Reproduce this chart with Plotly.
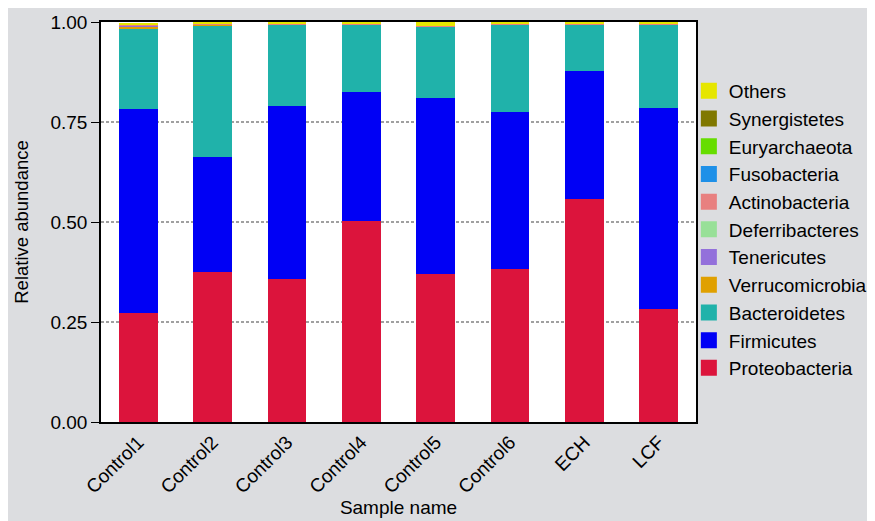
import plotly.graph_objects as go

samples = ["Control1", "Control2", "Control3", "Control4", "Control5", "Control6", "ECH", "LCF"]

proteobacteria = [0.272, 0.374, 0.357, 0.503, 0.369, 0.382, 0.557, 0.283]
firmicutes = [0.511, 0.288, 0.433, 0.321, 0.442, 0.393, 0.321, 0.503]
bacteroidetes = [0.199, 0.330, 0.2025, 0.169, 0.1765, 0.2175, 0.1145, 0.2065]
verrucomicrobia = [0.0055, 0.0010, 0.0005, 0.0005, 0.0005, 0.0005, 0.0010, 0.0005]
tenericutes = [0.0035, 0.0005, 0.0005, 0.0005, 0.0005, 0.0005, 0.0005, 0.0005]
deferribacteres = [0.0005, 0.0005, 0.0005, 0.0005, 0.0005, 0.0005, 0.0005, 0.0005]
actinobacteria = [0.0010, 0.0015, 0.0020, 0.0010, 0.0010, 0.0015, 0.0015, 0.0015]
fusobacteria = [0.0002, 0.0002, 0.0002, 0.0002, 0.0002, 0.0002, 0.0002, 0.0002]
euryarchaeota = [0.0002, 0.0002, 0.0002, 0.0002, 0.0002, 0.0002, 0.0002, 0.0002]
synergistetes = [0.0002, 0.0002, 0.0002, 0.0002, 0.0002, 0.0002, 0.0002, 0.0002]
others = [0.0044, 0.0044, 0.0034, 0.0044, 0.0094, 0.0034, 0.0034, 0.0044]

series = [
    ("Proteobacteria", proteobacteria, "#dc143c"),
    ("Firmicutes", firmicutes, "#0000f5"),
    ("Bacteroidetes", bacteroidetes, "#20b2aa"),
    ("Verrucomicrobia", verrucomicrobia, "#e0a000"),
    ("Tenericutes", tenericutes, "#9370db"),
    ("Deferribacteres", deferribacteres, "#98e098"),
    ("Actinobacteria", actinobacteria, "#e88080"),
    ("Fusobacteria", fusobacteria, "#1e90e8"),
    ("Euryarchaeota", euryarchaeota, "#66dd00"),
    ("Synergistetes", synergistetes, "#807800"),
    ("Others", others, "#e6e600"),
]

y_ticks = [0, 0.25, 0.5, 0.75, 1.0]

FONT = "Liberation Sans, Arial, sans-serif"
BG = "#dcdde0"

fig = go.Figure()
for name, vals, color in series:
    fig.add_trace(go.Bar(
        x=samples, y=vals, name=name, legendgroup=name, showlegend=False,
        marker=dict(color=color, line=dict(width=0)),
    ))
for name, vals, color in series:
    fig.add_trace(go.Scatter(
        x=[None], y=[None], mode="markers", name=name, legendgroup=name,
        marker=dict(symbol="square", size=16, color=color),
    ))

# background panels: grey page, white plotting area
fig.add_shape(type="rect", xref="paper", yref="paper", x0=-0.5, x1=1.5, y0=-0.5, y1=1.5,
              fillcolor=BG, line=dict(width=0), layer="below")
fig.add_shape(type="rect", xref="paper", yref="paper", x0=0, x1=1, y0=0, y1=1,
              fillcolor="white", line=dict(width=0), layer="below")

fig.update_layout(
    barmode="stack",
    bargap=0.48,
    width=875, height=521,
    margin=dict(l=93, r=187, t=14, b=107, autoexpand=False),
    paper_bgcolor=BG,
    plot_bgcolor="white",
    font=dict(family=FONT, size=19, color="black"),
    legend=dict(
        traceorder="reversed",
        x=0.988, xanchor="left", y=0.875, yanchor="top",
        bgcolor="rgba(0,0,0,0)",
        font=dict(size=19),
        itemsizing="trace",
        tracegroupgap=0,
    ),
    xaxis=dict(
        title=dict(text="Sample name", font=dict(size=19), standoff=0),
        tickangle=-45,
        showline=True, linecolor="black", linewidth=1.5, mirror=True,
        ticks="", showgrid=False,
        tickfont=dict(size=19),
    ),
    yaxis=dict(
        title=dict(text="Relative abundance", font=dict(size=18.5), standoff=17),
        range=[0, 1],
        tickvals=y_ticks,
        tickformat=".2f",
        ticks="outside", ticklen=8, tickcolor="black",
        showline=True, linecolor="black", linewidth=1.5, mirror=True,
        showgrid=True, gridcolor="#a0a0a0", griddash="3px,2px", gridwidth=1.5,
        zeroline=False,
        tickfont=dict(size=19),
    ),
)

fig.write_html("out.html")
